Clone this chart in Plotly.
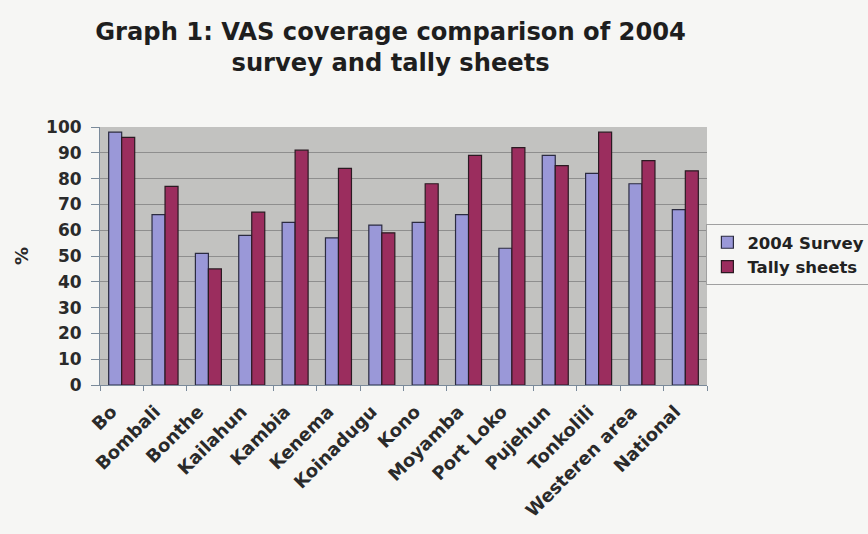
import plotly.graph_objects as go

districts = ["Bo", "Bombali", "Bonthe", "Kailahun", "Kambia", "Kenema", "Koinadugu",
             "Kono", "Moyamba", "Port Loko", "Pujehun", "Tonkolili", "Westeren area", "National"]
survey_2004 = [98, 66, 51, 58, 63, 57, 62, 63, 66, 53, 89, 82, 78, 68]
tally_sheets = [96, 77, 45, 67, 91, 84, 59, 78, 89, 92, 85, 98, 87, 83]
y_ticks = list(range(0, 101, 10))

FONT = "DejaVu Sans, Arial, sans-serif"

fig = go.Figure()
fig.add_trace(go.Bar(x=districts, y=survey_2004, name="2004 Survey", legendgroup="a",
                     marker=dict(color="#9a98d8", line=dict(color="#2b2b40", width=1.2))))
fig.add_trace(go.Bar(x=districts, y=tally_sheets, name="Tally sheets", legendgroup="b",
                     marker=dict(color="#9b2d5e", line=dict(color="#2b1a22", width=1.2))))

fig.update_layout(
    width=868, height=534,
    margin=dict(l=100, r=161, t=127, b=149, autoexpand=False),
    paper_bgcolor="#f6f6f4", plot_bgcolor="#c2c2c0",
    barmode="group", bargap=0.4, bargroupgap=0,
    font=dict(family=FONT, size=17, color="#2a2a2a", weight="bold"),
    title=dict(text="Graph 1: VAS coverage comparison of 2004<br>survey and tally sheets",
               x=0.45, xanchor="center", xref="container",
               y=0.926, yanchor="middle", yref="container",
               font=dict(family=FONT, size=24.2, color="#1e1e1e", weight="bold")),
    showlegend=True,
    legend=dict(x=0.999, xanchor="left", y=0.624, yanchor="top",
                bgcolor="#f6f6f4", bordercolor="#a0a0a0", borderwidth=1,
                font=dict(family=FONT, size=16.5, color="#222", weight="bold"),
                traceorder="normal", itemwidth=30, tracegroupgap=18),
)
fig.update_yaxes(range=[0, 100], tickvals=y_ticks, showgrid=True, gridcolor="#8e8e8e",
                 gridwidth=1, showline=True, linecolor="#7a8a9a", mirror=False,
                 ticks="outside", ticklen=8, tickcolor="#7a8a9a", ticklabelstandoff=6,
                 tickfont=dict(family=FONT, size=17, weight="bold", color="#2a2a2a"),
                 zeroline=False, automargin=False)
fig.update_xaxes(showline=True, linecolor="#7a8a9a", ticks="outside", ticklen=5,
                 tickson="boundaries", tickcolor="#7a8a9a", tickangle=-45,
                 ticklabelstandoff=8, ticklabelshift=-10, automargin=False,
                 tickfont=dict(family=FONT, size=18, weight="bold", color="#2a2a2a"))
fig.add_annotation(text="%", xref="paper", yref="paper", x=-0.13, y=0.5,
                   xanchor="center", yanchor="middle",
                   showarrow=False, textangle=-90,
                   font=dict(family=FONT, size=18, weight="bold", color="#2a2a2a"))

fig.write_html("out.html")
